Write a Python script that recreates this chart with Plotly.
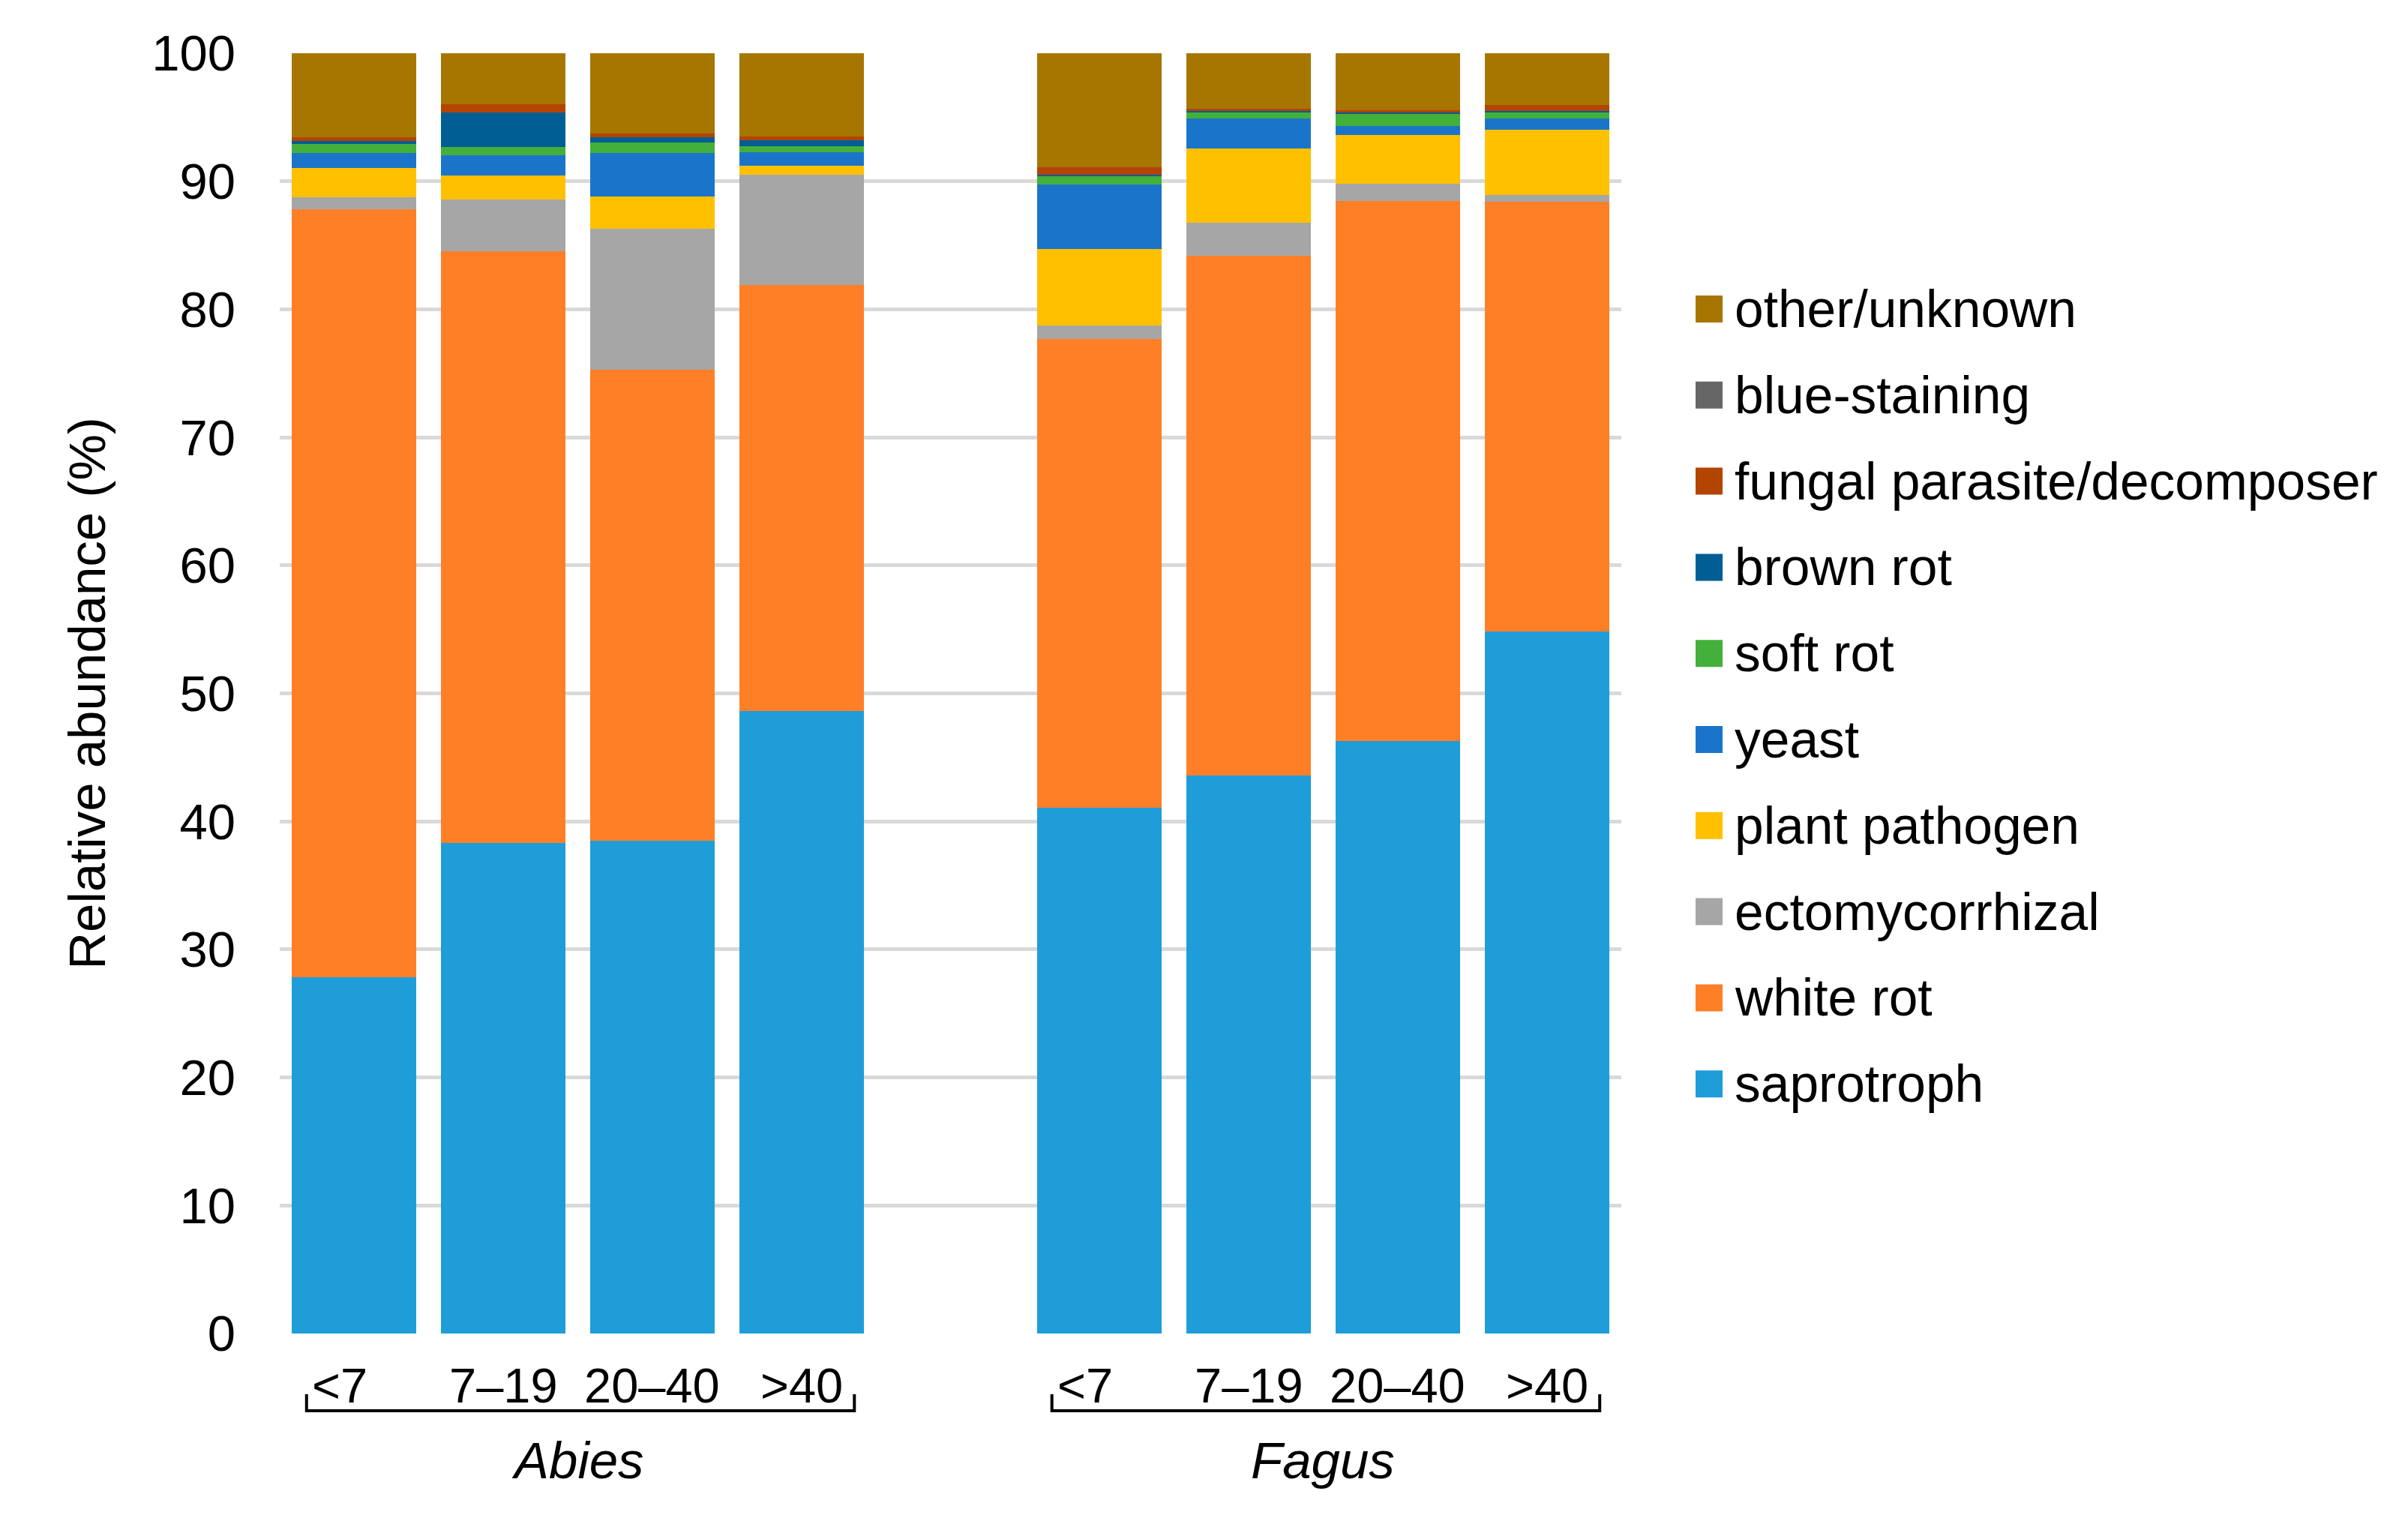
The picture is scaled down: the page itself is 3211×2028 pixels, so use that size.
import plotly.graph_objects as go

# ---------------- data ----------------
groups = ["Abies", "Fagus"]
categories = ["&lt;7", "7–19", "20–40", "&gt;40"]

# values per bar: Abies <7, 7–19, 20–40, >40, Fagus <7, 7–19, 20–40, >40
saprotroph      = [27.85, 38.30, 38.50, 48.60, 41.06, 43.58, 46.30, 54.86]
white_rot       = [59.96, 46.23, 36.80, 33.31, 36.61, 40.60, 42.15, 33.54]
ectomycorrhizal = [0.94, 4.04, 10.99, 8.60, 1.08, 2.58, 1.35, 0.53]
plant_pathogen  = [2.29, 1.88, 2.52, 0.70, 5.96, 5.80, 3.81, 5.09]
yeast           = [1.19, 1.58, 3.42, 1.06, 5.06, 2.34, 0.71, 0.88]
soft_rot        = [0.67, 0.65, 0.80, 0.46, 0.68, 0.47, 0.99, 0.53]
brown_rot       = [0.26, 2.71, 0.41, 0.47, 0.08, 0.12, 0.08, 0.06]
fungal_parasite = [0.28, 0.63, 0.29, 0.30, 0.56, 0.17, 0.16, 0.47]
blue_staining   = [0.00, 0.00, 0.00, 0.00, 0.00, 0.00, 0.00, 0.00]
other_unknown   = [6.56, 3.98, 6.27, 6.50, 8.91, 4.34, 4.45, 4.04]

series_names = ["saprotroph", "white rot", "ectomycorrhizal", "plant pathogen", "yeast",
                "soft rot", "brown rot", "blue-staining", "fungal parasite/decomposer",
                "other/unknown"]
series_values = [saprotroph, white_rot, ectomycorrhizal, plant_pathogen, yeast,
                 soft_rot, brown_rot, blue_staining, fungal_parasite, other_unknown]
series_colors = ["#1F9DD9", "#FF7F27", "#A6A6A6", "#FFC000", "#1A75CA",
                 "#43B03B", "#005E94", "#666666", "#B44402", "#A67600"]
# legend order (top to bottom)
legend_order = ["other/unknown", "blue-staining", "fungal parasite/decomposer", "brown rot",
                "soft rot", "yeast", "plant pathogen", "ectomycorrhizal", "white rot",
                "saprotroph"]

yticks = [0, 10, 20, 30, 40, 50, 60, 70, 80, 90, 100]

# ---------------- figure ----------------
FONT = "Liberation Sans, Arial, sans-serif"
W, H = 3211, 2028
ML, MR, MT, MB = 373, 1049, 71, 250
PW, PH = W - ML - MR, H - MT - MB

ncat = len(categories)
xpos = [g * (ncat + 1) + i for g in range(len(groups)) for i in range(ncat)]

fig = go.Figure()
for name, vals, col in zip(series_names, series_values, series_colors):
    fig.add_trace(go.Bar(x=xpos, y=vals, name=name, marker=dict(color=col, line=dict(width=0)),
                         width=0.835, showlegend=False))

fig.update_layout(
    barmode="stack",
    width=W, height=H,
    margin=dict(l=ML, r=MR, t=MT, b=MB, pad=0),
    paper_bgcolor="white", plot_bgcolor="white",
    font=dict(family=FONT, size=66, color="black"),
    showlegend=False,
)
fig.update_xaxes(range=[-0.5, len(groups) * (ncat + 1) - 1.5], showticklabels=False,
                 showgrid=False, zeroline=False, showline=False, ticks="")
fig.update_yaxes(range=[0, 100], tickvals=yticks, showgrid=True, gridcolor="#D9D9D9",
                 gridwidth=5, zeroline=False, showline=False, ticks="",
                 ticklabelstandoff=58, tickfont=dict(size=67),
                 title=dict(text="Relative abundance (%)", font=dict(size=69), standoff=39))

def py(yorig):
    return (MT + PH - yorig) / PH

def px(xorig):
    return (xorig - ML) / PW

# category labels, brackets, group labels
for g, gname in enumerate(groups):
    base = g * (ncat + 1)
    for i, c in enumerate(categories):
        fig.add_annotation(x=base + i, y=py(1848), xref="x", yref="paper", text=c,
                           showarrow=False, xanchor="center", yanchor="middle",
                           xshift=-19 if i == 0 else 0,
                           font=dict(size=65))
    x0, x1 = base - 0.32, base + 3.355
    yb, yt = py(1881), py(1859)
    fig.add_shape(type="path", xref="x", yref="paper",
                  path=f"M {x0},{yt} L {x0},{yb} L {x1},{yb} L {x1},{yt}",
                  line=dict(color="black", width=4))
    fig.add_annotation(x=base + (ncat - 1) / 2, y=py(1947), xref="x", yref="paper",
                       text=f"<i>{gname}</i>", showarrow=False, xanchor="center",
                       yanchor="middle", font=dict(size=69))

# legend (manual, large swatches)
color_of = dict(zip(series_names, series_colors))
for k, name in enumerate(legend_order):
    yc = 412 + k * 114.8
    fig.add_shape(type="rect", xref="paper", yref="paper",
                  x0=px(2261), x1=px(2297), y0=py(yc + 18), y1=py(yc - 18),
                  fillcolor=color_of[name], line=dict(width=0))
    fig.add_annotation(x=px(2311), y=py(yc), xref="paper", yref="paper", text=name,
                       showarrow=False, xanchor="left", yanchor="middle",
                       font=dict(size=69.5))

fig.write_html("out.html", config={"displayModeBar": False},
               post_script="document.body.style.margin='0';document.body.style.overflow='hidden';")
